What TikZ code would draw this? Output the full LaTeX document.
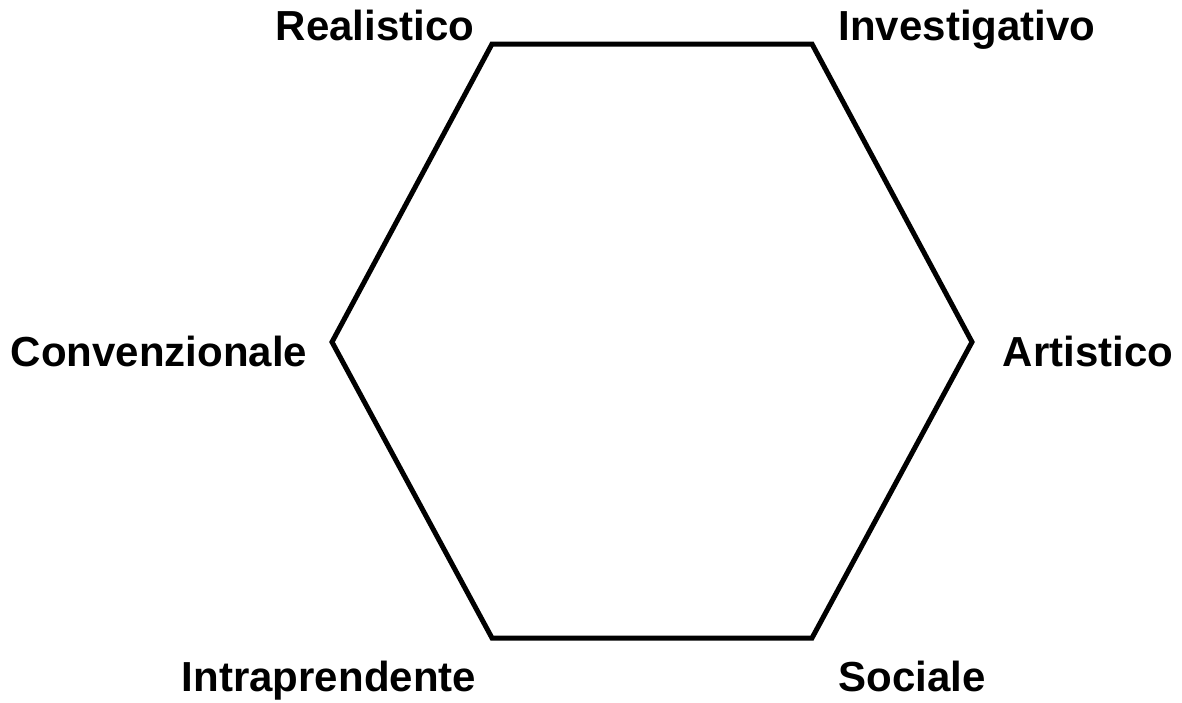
\documentclass[tikz,border=0pt]{standalone}
\usepackage{fontspec}
\setmainfont{Liberation Sans}
\begin{document}
\begin{tikzpicture}[x=1pt,y=-1pt,
  lbl/.style={font=\fontsize{42}{50}\selectfont\bfseries, anchor=base, inner sep=0pt},
  hex/.style={line width=5pt, line join=miter}]
\useasboundingbox (0,0) rectangle (1182,702);
\coordinate (R) at (492,44);
\coordinate (I) at (812,44);
\coordinate (A) at (972,342);
\coordinate (S) at (812,638);
\coordinate (E) at (492,638);
\coordinate (C) at (332,342);
\draw[hex] (R) -- (I) -- (A) -- (S) -- (E) -- (C) -- cycle;
\node[lbl] (tR) at (375,40) {Realistico};
\node[lbl] (tI) at (967,40) {Investigativo};
\node[lbl] (tC) at (159,366) {Convenzionale};
\node[lbl] (tA) at (1088,366) {Artistico};
\node[lbl] (tE) at (329,691) {Intraprendente};
\node[lbl] (tS) at (912,691) {Sociale};
\end{tikzpicture}
\end{document}
